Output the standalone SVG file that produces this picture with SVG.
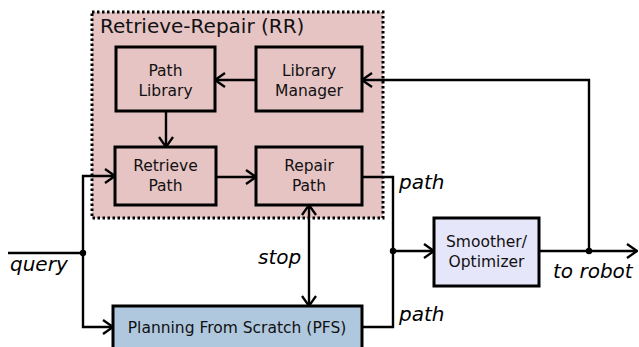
<svg xmlns="http://www.w3.org/2000/svg" width="639" height="347" viewBox="0 0 639 347">
<defs>
<marker id="ah" viewBox="0 0 12 16" refX="11" refY="8" markerWidth="12" markerHeight="16" markerUnits="userSpaceOnUse" orient="auto-start-reverse">
<path d="M1,1 L11,8 L1,15" fill="none" stroke="#000" stroke-width="2.3"/>
</marker>
<style>
.box{stroke:#000;stroke-width:3}
.rr{fill:#e6c4c4}
.c{fill:none;stroke:#000;stroke-width:2.4}
.t{font-family:"DejaVu Sans",sans-serif;font-size:15.5px;fill:#111;text-anchor:middle}
.i{font-family:"DejaVu Sans",sans-serif;font-size:20px;font-style:italic;fill:#000}
</style>
</defs>
<rect width="639" height="347" fill="#fff"/>
<g id="rr-group">
<rect x="92" y="12" width="291" height="206" fill="#e6c4c4" stroke="#000" stroke-width="3" stroke-dasharray="2.5,2.5"/>
<text x="100" y="33" font-family="DejaVu Sans, sans-serif" font-size="20" fill="#111">Retrieve-Repair (RR)</text>
</g>
<g id="path-library">
<rect class="box rr" x="116" y="47" width="99" height="64"/>
<text class="t" x="165.5" y="76">Path</text>
<text class="t" x="165.5" y="96">Library</text>
</g>
<g id="library-manager">
<rect class="box rr" x="256" y="47" width="106" height="64"/>
<text class="t" x="309" y="76">Library</text>
<text class="t" x="309" y="96">Manager</text>
</g>
<g id="retrieve-path">
<rect class="box rr" x="115" y="147" width="101" height="58"/>
<text class="t" x="165.5" y="171">Retrieve</text>
<text class="t" x="165.5" y="191">Path</text>
</g>
<g id="repair-path">
<rect class="box rr" x="256" y="147" width="106" height="58"/>
<text class="t" x="309" y="171">Repair</text>
<text class="t" x="309" y="191">Path</text>
</g>
<g id="pfs">
<rect class="box" x="113" y="306" width="249" height="50" fill="#b0c8de"/>
<text class="t" x="237" y="333">Planning From Scratch (PFS)</text>
</g>
<g id="smoother">
<rect class="box" x="434" y="218" width="105" height="68" fill="#e6e6fa"/>
<text class="t" x="486.5" y="247">Smoother/</text>
<text class="t" x="486.5" y="267">Optimizer</text>
</g>
<g id="connectors">
<path class="c" d="M256,80 H215" marker-end="url(#ah)"/>
<path class="c" d="M166,111 V147" marker-end="url(#ah)"/>
<path class="c" d="M216,177 H256" marker-end="url(#ah)"/>
<path class="c" d="M8,253 H83"/>
<path class="c" d="M83,253 V176 H115" marker-end="url(#ah)"/>
<path class="c" d="M83,253 V327 H113" marker-end="url(#ah)"/>
<circle cx="83" cy="253" r="3.2"/>
<path class="c" d="M309,205 V306" marker-start="url(#ah)" marker-end="url(#ah)"/>
<path class="c" d="M362,177 H393 V327 H362"/>
<path class="c" d="M393,251 H434" marker-end="url(#ah)"/>
<circle cx="393" cy="251" r="3.2"/>
<path class="c" d="M539,251 H637" marker-end="url(#ah)"/>
<circle cx="589" cy="251" r="3.2"/>
<path class="c" d="M589,251 V80 H362" marker-end="url(#ah)"/>
</g>
<g id="labels">
<text class="i" x="10" y="271">query</text>
<text class="i" x="258" y="264">stop</text>
<text class="i" x="399" y="189">path</text>
<text class="i" x="399" y="321">path</text>
<text class="i" x="553" y="278">to robot</text>
</g>
</svg>
